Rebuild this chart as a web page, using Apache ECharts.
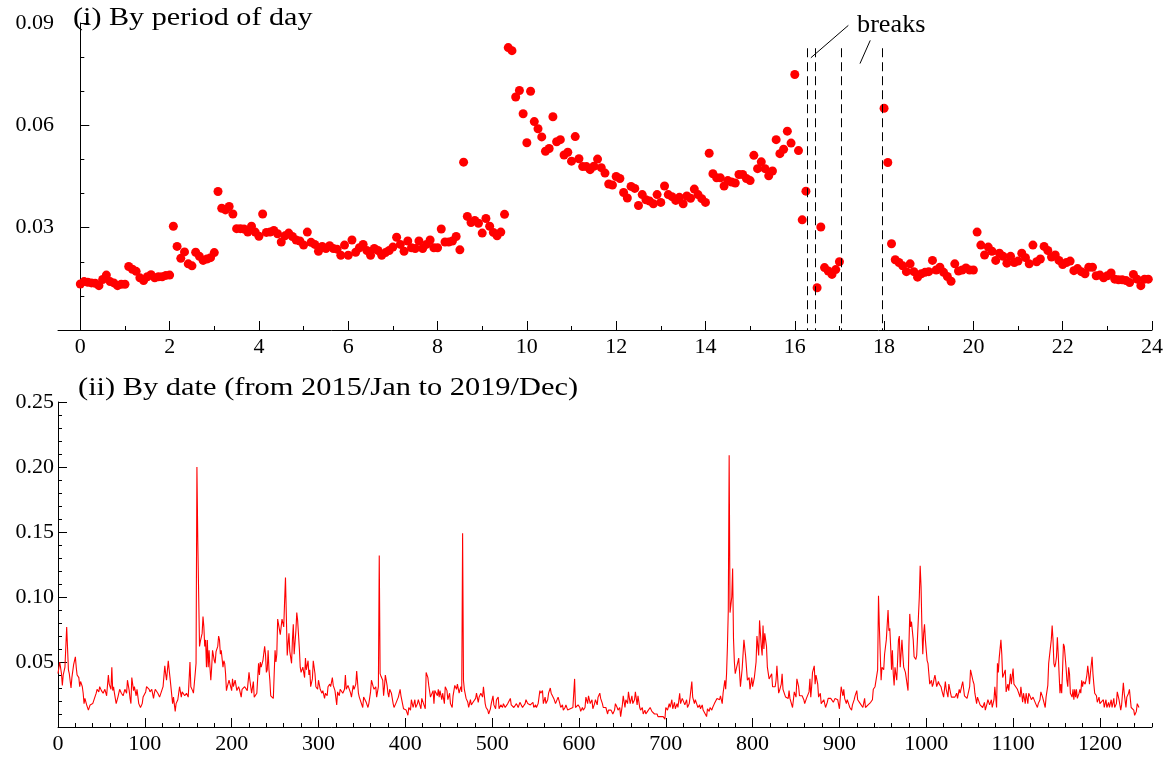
<!DOCTYPE html>
<html><head><meta charset="utf-8">
<script src="https://cdn.jsdelivr.net/npm/echarts@6/dist/echarts.min.js"></script>
<style>html,body{margin:0;padding:0;background:#fff}#c{width:1174px;height:757px}</style>
</head><body><div id="c"></div>
<script>
// ---------- (i) By period of day : one value per 5-minute period (null = break) ----------
const periodRate = [
 0.0135,0.0142,0.0140,0.0138,0.0137,0.0130,0.0148,0.0161,0.0142,0.0138,0.0130,0.0134,
 0.0134,0.0186,0.0178,0.0172,0.0153,0.0145,0.0156,0.0162,0.0153,0.0156,0.0156,0.0160,
 0.0161,0.0304,0.0245,0.0210,0.0229,0.0194,0.0188,0.0228,0.0216,0.0204,0.0208,0.0212,
 0.0227,0.0406,0.0357,0.0352,0.0362,0.0340,0.0297,0.0297,0.0296,0.0287,0.0304,0.0287,
 0.0275,0.0340,0.0286,0.0287,0.0292,0.0282,0.0258,0.0276,0.0284,0.0274,0.0264,0.0261,
 0.0249,0.0287,0.0257,0.0251,0.0231,0.0245,0.0239,0.0247,0.0239,0.0237,0.0219,0.0249,
 0.0219,0.0264,0.0228,0.0241,0.0251,0.0233,0.0219,0.0239,0.0233,0.0219,0.0227,0.0233,
 0.0243,0.0272,0.0251,0.0231,0.0261,0.0241,0.0239,0.0261,0.0239,0.0251,0.0264,0.0241,
 0.0241,0.0296,0.0258,0.0258,0.0261,0.0274,0.0235,0.0492,0.0333,0.0315,0.0321,0.0313,
 0.0284,0.0327,0.0304,0.0286,0.0276,0.0287,0.0339,0.0828,0.0819,0.0683,0.0702,0.0634,
 0.0549,0.0700,0.0611,0.0590,0.0566,0.0524,0.0532,0.0625,0.0552,0.0558,0.0513,0.0521,
 0.0495,0.0567,0.0502,0.0479,0.0479,0.0470,0.0480,0.0501,0.0476,0.0460,0.0428,0.0425,
 0.0450,0.0444,0.0403,0.0387,0.0421,0.0415,0.0365,0.0397,0.0382,0.0378,0.0370,0.0397,
 0.0374,0.0422,0.0397,0.0391,0.0380,0.0389,0.0370,0.0393,0.0386,0.0413,0.0397,0.0385,
 0.0374,0.0518,0.0458,0.0446,0.0446,0.0422,0.0438,0.0434,0.0431,0.0456,0.0456,0.0444,
 0.0438,0.0512,0.0473,0.0493,0.0473,0.0452,0.0466,0.0558,0.0517,0.0530,0.0583,0.0548,
 0.0749,0.0526,0.0323,0.0407,null,null,0.0124,0.0302,0.0183,0.0173,0.0163,0.0177,
 0.0200,null,null,null,null,null,null,null,null,null,null,null,
 0.0650,0.0491,0.0253,0.0206,0.0198,0.0188,0.0171,0.0194,0.0171,0.0155,0.0165,0.0169,
 0.0171,0.0204,0.0176,0.0184,0.0169,0.0157,0.0143,0.0194,0.0173,0.0176,0.0182,0.0176,
 0.0176,0.0287,0.0249,0.0220,0.0243,0.0231,0.0204,0.0225,0.0216,0.0196,0.0216,0.0198,
 0.0202,0.0225,0.0212,0.0194,0.0249,0.0200,0.0208,0.0245,0.0233,0.0214,0.0220,0.0204,
 0.0192,0.0198,0.0202,0.0174,0.0180,0.0171,0.0165,0.0184,0.0184,0.0159,0.0161,0.0153,
 0.0159,0.0167,0.0149,0.0147,0.0147,0.0145,0.0139,0.0163,0.0149,0.0130,0.0149,0.0149
];
const periodsPerHour = 12;
const hourTicks = [0,2,4,6,8,10,12,14,16,18,20,22,24];
const breakHours = [16.29, 16.45, 17.04, 17.95];

// ---------- (ii) By date : [day index, value] ----------
const dateObs = [
[0,0.041],[2,0.050],[4,0.041],[5,0.032],[6,0.040],[8,0.046],[10,0.077],[12,0.044],[13,0.041],[15,0.030],
[16,0.038],[18,0.048],[20,0.054],[21,0.046],[22,0.040],[24,0.038],[25,0.031],[26,0.035],[28,0.031],[29,0.026],
[30,0.018],[31,0.022],[33,0.017],[35,0.013],[37,0.017],[38,0.017],[40,0.018],[42,0.022],[44,0.026],[45,0.029],
[47,0.027],[48,0.031],[50,0.028],[52,0.026],[54,0.029],[56,0.024],[58,0.040],[59,0.033],[61,0.029],[62,0.046],
[63,0.028],[64,0.031],[65,0.026],[67,0.018],[69,0.023],[71,0.029],[73,0.026],[75,0.024],[77,0.029],[79,0.026],
[80,0.036],[82,0.028],[83,0.022],[84,0.018],[85,0.038],[87,0.028],[88,0.031],[90,0.024],[91,0.029],[93,0.018],
[94,0.017],[95,0.015],[97,0.018],[98,0.023],[99,0.024],[101,0.027],[102,0.031],[104,0.031],[105,0.029],[106,0.027],
[108,0.029],[110,0.022],[111,0.026],[112,0.029],[114,0.028],[115,0.026],[117,0.023],[119,0.027],[121,0.031],[123,0.047],
[124,0.041],[125,0.036],[127,0.051],[128,0.044],[129,0.038],[131,0.038],[132,0.018],[133,0.023],[135,0.012],[136,0.018],
[137,0.017],[138,0.021],[140,0.031],[142,0.023],[143,0.027],[145,0.028],[146,0.024],[148,0.026],[150,0.023],[152,0.050],
[153,0.031],[155,0.028],[156,0.026],[158,0.041],[159,0.049],[160,0.200],[161,0.143],[163,0.062],[164,0.066],[166,0.072],
[167,0.085],[168,0.077],[169,0.062],[170,0.067],[171,0.046],[172,0.067],[173,0.046],[174,0.059],[175,0.046],[176,0.036],
[177,0.046],[178,0.059],[180,0.051],[181,0.049],[182,0.058],[183,0.059],[184,0.062],[185,0.070],[186,0.067],[187,0.056],
[188,0.059],[190,0.046],[191,0.051],[192,0.049],[193,0.041],[194,0.028],[195,0.031],[197,0.036],[198,0.036],[200,0.028],
[201,0.037],[202,0.031],[204,0.036],[206,0.028],[208,0.031],
[209,0.029],[211,0.023],[212,0.029],[214,0.030],[215,0.031],[217,0.032],[218,0.028],[220,0.042],[221,0.036],[223,0.026],
[225,0.035],[226,0.023],[228,0.022],[229,0.026],[231,0.049],[232,0.040],[233,0.050],[234,0.046],[236,0.051],[238,0.062],
[239,0.056],[240,0.042],[241,0.044],[242,0.059],[243,0.044],[244,0.036],[245,0.024],[246,0.023],[248,0.022],[249,0.041],
[250,0.059],[251,0.050],[252,0.056],[253,0.083],[254,0.083],[255,0.082],[256,0.071],[257,0.077],[258,0.083],[260,0.077],
[261,0.097],[262,0.115],[263,0.085],[264,0.055],[265,0.064],[266,0.072],[267,0.058],[269,0.049],[270,0.067],[271,0.079],
[272,0.056],[274,0.074],[275,0.088],[276,0.082],[277,0.083],[278,0.060],[279,0.046],[280,0.042],[282,0.046],[284,0.038],
[285,0.053],[286,0.044],[288,0.051],[289,0.040],[290,0.044],[291,0.031],[293,0.037],[294,0.051],[296,0.041],[297,0.031],
[299,0.029],[300,0.036],[302,0.029],[304,0.026],[305,0.028],[307,0.022],[308,0.026],[310,0.024],[311,0.031],[313,0.033],
[314,0.031],[316,0.038],[317,0.032],[319,0.028],[321,0.017],[322,0.027],[324,0.024],[325,0.029],[327,0.028],[328,0.026],
[330,0.029],[331,0.040],[332,0.029],[334,0.032],[335,0.033],[337,0.026],[338,0.023],[340,0.032],[341,0.029],[343,0.033],
[344,0.043],[346,0.026],[347,0.023],[349,0.022],[351,0.015],[352,0.023],[354,0.024],[355,0.019],[357,0.015],[358,0.018],
[360,0.027],[361,0.036],[363,0.031],[364,0.029],[366,0.031],[367,0.023],[369,0.031],[370,0.132],[371,0.041],[372,0.039],
[374,0.036],[375,0.024],[376,0.031],[377,0.040],[379,0.032],[380,0.026],[381,0.023],[382,0.029],[384,0.026],[386,0.018],
[387,0.015],[389,0.018],[390,0.019],[392,0.023],[394,0.029],[395,0.024],[396,0.023],[398,0.014],[400,0.015],[401,0.013],
[403,0.009],[404,0.015],[406,0.013],[407,0.021],[409,0.015],[411,0.021],[412,0.015],[414,0.018],[415,0.021],
[416,0.021],[418,0.014],[419,0.022],[421,0.018],[423,0.014],[424,0.042],[426,0.038],[427,0.032],[429,0.023],[430,0.022],
[432,0.028],[433,0.018],[434,0.028],[436,0.029],[437,0.024],[438,0.029],[439,0.023],[440,0.028],[442,0.021],[443,0.026],
[445,0.018],[446,0.031],[448,0.028],[449,0.021],[451,0.026],[452,0.018],[454,0.015],[455,0.024],[457,0.032],[459,0.029],
[460,0.033],[462,0.026],[463,0.029],[464,0.031],[465,0.027],[466,0.149],[467,0.036],[468,0.029],[470,0.022],[472,0.019],
[473,0.015],[475,0.021],[476,0.017],[478,0.019],[479,0.018],[481,0.022],[482,0.026],[484,0.019],[485,0.023],[487,0.026],
[489,0.023],[490,0.031],[492,0.018],[493,0.015],[495,0.013],[496,0.010],[498,0.014],[499,0.018],[501,0.024],[502,0.017],
[504,0.014],[505,0.021],[507,0.023],[508,0.014],[510,0.017],[512,0.015],[513,0.018],[515,0.015],[516,0.014],[518,0.018],
[519,0.018],[521,0.022],[522,0.017],[524,0.018],[525,0.015],[527,0.014],[528,0.018],[530,0.015],[532,0.019],[533,0.018],
[535,0.015],[536,0.014],[538,0.018],[539,0.021],[541,0.018],[542,0.019],[544,0.017],[545,0.018],[547,0.019],[548,0.015],
[550,0.017],[551,0.015],[553,0.018],[555,0.028],[556,0.026],[558,0.028],[559,0.018],[561,0.023],[562,0.018],[564,0.021],
[565,0.026],[567,0.030],[568,0.026],[570,0.026],[571,0.022],[573,0.018],[575,0.019],[576,0.023],[578,0.018],[579,0.015],
[581,0.017],[582,0.013],[584,0.015],[585,0.017],[587,0.013],[588,0.013],[590,0.014],[591,0.013],[593,0.015],[595,0.037],
[596,0.015],[598,0.014],[599,0.017],[601,0.015],[602,0.012],[604,0.015],[605,0.013],[607,0.015],[608,0.023],[610,0.018],
[611,0.024],[613,0.018],[615,0.021],[616,0.014],[618,0.018],[619,0.021],[621,0.017],[622,0.023],[624,0.026],
[625,0.022],[627,0.018],[628,0.015],[630,0.014],[631,0.015],[633,0.010],[634,0.013],[636,0.012],[637,0.013],[639,0.010],
[641,0.013],[642,0.018],[644,0.015],[645,0.013],[647,0.015],[648,0.008],[650,0.017],[651,0.024],[653,0.015],[654,0.021],
[656,0.018],[657,0.027],[659,0.018],[661,0.024],[662,0.018],[664,0.021],[665,0.027],[667,0.017],[668,0.024],[670,0.015],
[671,0.013],[673,0.015],[674,0.010],[676,0.013],[677,0.010],[679,0.012],[680,0.013],[682,0.015],[684,0.012],[685,0.013],
[687,0.010],[688,0.009],[690,0.010],[691,0.008],[693,0.009],[694,0.008],[696,0.009],[697,0.008],[699,0.006],[700,0.015],
[702,0.013],[704,0.018],[705,0.015],[707,0.021],[708,0.014],[710,0.019],[711,0.014],[713,0.018],[714,0.015],[716,0.026],
[717,0.018],[719,0.022],[720,0.023],[722,0.017],[724,0.021],[725,0.015],[727,0.018],[728,0.023],[730,0.035],[731,0.023],
[733,0.018],[734,0.021],[736,0.017],[737,0.015],[739,0.017],[740,0.014],[742,0.017],[743,0.013],[745,0.012],[747,0.008],
[748,0.014],[750,0.012],[751,0.015],[753,0.013],[754,0.015],[756,0.018],[757,0.017],[759,0.022],[760,0.023],[762,0.021],
[763,0.024],[765,0.018],[766,0.026],[768,0.036],[769,0.029],[770,0.041],[771,0.062],[772,0.090],[773,0.209],[774,0.088],
[776,0.100],[777,0.122],[778,0.068],[779,0.050],[780,0.041],[782,0.042],[784,0.053],[786,0.031],[788,0.045],[790,0.067],
[792,0.054],[794,0.036],[796,0.038],[797,0.029],[799,0.038],[800,0.031],[802,0.038],[804,0.050],[805,0.070],[807,0.055],
[808,0.082],[810,0.062],[811,0.055],[812,0.078],[813,0.060],[814,0.072],[816,0.062],[817,0.046],[819,0.037],[822,0.041],
[823,0.031],
[826,0.031],[827,0.036],[828,0.047],[830,0.026],[831,0.028],[833,0.033],[834,0.041],[835,0.029],[836,0.029],[838,0.023],
[840,0.023],[841,0.022],[842,0.028],[843,0.022],[845,0.023],[846,0.015],[848,0.027],[850,0.023],[851,0.037],[853,0.031],
[854,0.024],[856,0.023],[857,0.024],[859,0.021],[860,0.018],[862,0.022],[863,0.023],[865,0.027],[866,0.037],[867,0.023],
[868,0.031],[869,0.042],[871,0.047],[872,0.033],[873,0.040],[875,0.033],[876,0.023],[878,0.026],[879,0.018],[881,0.017],
[882,0.021],[884,0.015],[886,0.019],[887,0.022],[889,0.021],[890,0.022],[892,0.023],[893,0.019],[895,0.022],[896,0.023],
[898,0.021],[900,0.014],[901,0.014],[902,0.031],[904,0.024],[905,0.029],[906,0.022],[908,0.018],[909,0.021],[911,0.017],
[912,0.015],[914,0.013],[915,0.017],[917,0.021],[918,0.024],[920,0.028],[921,0.021],[922,0.021],[924,0.018],[926,0.017],
[927,0.015],[929,0.022],[930,0.015],[932,0.014],[933,0.017],[935,0.018],[936,0.019],[938,0.021],[939,0.029],[941,0.031],
[942,0.031],[944,0.044],[945,0.101],[946,0.077],[948,0.036],[949,0.046],[951,0.044],[952,0.056],[954,0.067],[956,0.090],
[957,0.074],[958,0.076],[959,0.062],[960,0.044],[961,0.059],[962,0.041],[963,0.032],[964,0.046],[966,0.036],[967,0.051],
[968,0.067],[969,0.070],[970,0.046],[972,0.067],[973,0.056],[974,0.046],[976,0.042],[977,0.041],[979,0.028],[980,0.062],
[981,0.087],[982,0.077],[983,0.081],[985,0.067],[986,0.054],[988,0.052],[989,0.055],[991,0.085],[992,0.100],[993,0.124],
[994,0.108],[995,0.077],[996,0.056],[997,0.072],[998,0.079],[999,0.067],[1001,0.051],[1002,0.049],[1003,0.041],[1004,0.033],
[1006,0.036],[1007,0.031],[1008,0.033],[1009,0.037],[1010,0.040],[1011,0.036],[1012,0.031],[1014,0.035],[1015,0.033],[1017,0.031],
[1018,0.028],[1020,0.023],[1022,0.035],[1023,0.029],[1025,0.023],[1026,0.033],[1028,0.026],[1029,0.023],[1031,0.024],
[1033,0.023],[1035,0.026],[1036,0.022],[1038,0.029],[1039,0.026],[1041,0.032],[1042,0.035],[1044,0.024],[1045,0.023],[1047,0.022],
[1048,0.021],[1050,0.031],[1051,0.044],[1053,0.045],[1054,0.035],[1055,0.033],[1056,0.026],[1058,0.018],[1059,0.023],[1061,0.019],
[1062,0.017],[1064,0.018],[1065,0.015],[1067,0.019],[1068,0.013],[1070,0.018],[1071,0.021],[1073,0.017],[1075,0.021],[1076,0.015],
[1078,0.021],[1079,0.031],[1081,0.015],[1082,0.049],[1083,0.042],[1084,0.053],[1086,0.067],[1087,0.056],[1088,0.038],[1089,0.037],
[1091,0.044],[1092,0.027],[1094,0.033],[1095,0.028],[1097,0.041],[1098,0.033],[1100,0.045],[1101,0.033],[1103,0.031],[1105,0.029],
[1106,0.027],[1108,0.023],[1109,0.031],[1111,0.019],[1112,0.026],[1114,0.018],[1115,0.026],[1117,0.018],[1118,0.026],[1120,0.023],
[1121,0.021],[1123,0.023],[1124,0.022],[1126,0.018],[1128,0.015],[1129,0.018],[1131,0.021],[1132,0.027],[1134,0.023],[1135,0.022],
[1137,0.015],[1138,0.023],[1140,0.032],[1141,0.049],[1143,0.050],[1144,0.067],[1145,0.078],[1146,0.067],[1147,0.049],[1148,0.046],
[1149,0.049],[1150,0.054],[1151,0.069],[1152,0.056],[1154,0.026],[1155,0.033],[1156,0.026],[1157,0.044],[1158,0.064],[1159,0.062],
[1161,0.046],[1162,0.036],[1163,0.031],[1164,0.046],[1165,0.041],[1166,0.026],[1168,0.023],[1169,0.029],[1170,0.021],[1171,0.029],
[1172,0.023],[1173,0.029],[1174,0.022],[1176,0.026],[1177,0.029],[1178,0.026],[1179,0.036],[1180,0.031],[1181,0.035],[1183,0.033],
[1184,0.036],[1185,0.040],[1186,0.047],[1187,0.041],[1188,0.033],[1189,0.041],[1191,0.054],[1192,0.041],[1193,0.033],[1194,0.026],
[1196,0.024],[1197,0.019],[1199,0.023],[1200,0.018],[1202,0.017],[1204,0.021],[1205,0.015],[1207,0.021],[1208,0.015],[1210,0.019],
[1211,0.015],[1213,0.021],[1214,0.015],[1216,0.022],[1217,0.015],[1219,0.018],[1220,0.027],[1222,0.021],[1224,0.013],[1225,0.017],
[1227,0.034],[1228,0.026],[1230,0.015],[1231,0.023],[1233,0.026],[1234,0.029],[1236,0.015],[1237,0.014],[1239,0.013],[1240,0.009],
[1242,0.012],[1243,0.018],[1245,0.015]
];
const dayTicks = [0,100,200,300,400,500,600,700,800,900,1000,1100,1200];

const titleTop = '(i) By period of day';
const titleBottom = '(ii) By date (from 2015/Jan to 2019/Dec)';
const breaksLabel = 'breaks';

// ---------- chart ----------
const SERIF = '"Liberation Serif","Times New Roman",serif';
const BLACK = '#000';
const RED = '#ff0000';

const periodPoints = [];
periodRate.forEach((v, k) => { if (v !== null) periodPoints.push([k / periodsPerHour, v]); });

const minorHours = [];
for (let h = 1; h < 24; h += 2) minorHours.push(h);
const minorDays = [];
for (let d = 20; d <= 1260; d += 20) if (d % 100 !== 0) minorDays.push(d);

const tickLbl = { color: BLACK, fontFamily: SERIF, fontSize: 22 };
const axLine = { show: true, lineStyle: { color: BLACK, width: 1 } };

const chart = echarts.init(document.getElementById('c'), null, { renderer: 'canvas' });

const breakLines = breakHours.map(h => [
  { coord: [h, 0.0826], lineStyle: { type: [9, 5], color: BLACK, width: 1 } },
  { coord: [h, 0] }
]);
const pointerLines = [
  [{ coord: [17.2, 0.0893], lineStyle: { type: 'solid', color: BLACK, width: 1 } }, { coord: [16.36, 0.0798] }],
  [{ coord: [17.69, 0.0849], lineStyle: { type: 'solid', color: BLACK, width: 1 } }, { coord: [17.46, 0.0781] }]
];

chart.setOption({
  animation: false,
  backgroundColor: '#fff',
  grid: [
    { left: 58, right: 22, top: 23, height: 307 },
    { left: 58, right: 22, top: 402, height: 325 }
  ],
  xAxis: [
    { type: 'value', gridIndex: 0, position: 'bottom', min: -0.5, max: 24,
      axisLine: axLine, splitLine: { show: false },
      axisTick: { show: true, inside: true, length: 9, lineStyle: { color: BLACK }, customValues: hourTicks },
      axisLabel: Object.assign({ margin: 6, customValues: hourTicks, formatter: v => String(v) }, tickLbl) },
    { type: 'value', gridIndex: 0, position: 'bottom', min: -0.5, max: 24,
      axisLine: { show: false }, splitLine: { show: false }, axisLabel: { show: false },
      axisTick: { show: true, inside: true, length: 4, lineStyle: { color: BLACK }, customValues: minorHours } },
    { type: 'value', gridIndex: 1, position: 'bottom', min: 0, max: 1260,
      axisLine: axLine, splitLine: { show: false },
      axisTick: { show: true, inside: true, length: 9, lineStyle: { color: BLACK }, customValues: dayTicks },
      axisLabel: Object.assign({ margin: 6, customValues: dayTicks, formatter: v => String(v) }, tickLbl) },
    { type: 'value', gridIndex: 1, position: 'bottom', min: 0, max: 1260,
      axisLine: { show: false }, splitLine: { show: false }, axisLabel: { show: false },
      axisTick: { show: true, inside: true, length: 4, lineStyle: { color: BLACK }, customValues: minorDays } }
  ],
  yAxis: [
    { type: 'value', gridIndex: 0, min: 0, max: 0.09, interval: 0.03,
      axisLine: axLine, splitLine: { show: false },
      axisTick: { show: true, inside: true, length: 9, lineStyle: { color: BLACK } },
      minorTick: { show: true, splitNumber: 3, length: 4, lineStyle: { color: BLACK } },
      axisLabel: Object.assign({ margin: 4, formatter: v => v === 0 ? '' : v.toFixed(2) }, tickLbl) },
    { type: 'value', gridIndex: 1, min: 0, max: 0.25, interval: 0.05,
      axisLine: axLine, splitLine: { show: false },
      axisTick: { show: true, inside: true, length: 9, lineStyle: { color: BLACK } },
      minorTick: { show: true, splitNumber: 5, length: 4, lineStyle: { color: BLACK } },
      axisLabel: Object.assign({ margin: 4, formatter: v => v === 0 ? '' : v.toFixed(2) }, tickLbl) }
  ],
  series: [
    { type: 'scatter', xAxisIndex: 0, yAxisIndex: 0, data: periodPoints,
      symbol: 'circle', symbolSize: 9, itemStyle: { color: RED, opacity: 1 }, silent: true,
      markLine: { silent: true, symbol: ['none', 'none'], label: { show: false },
        data: breakLines.concat(pointerLines) } },
    { type: 'line', xAxisIndex: 2, yAxisIndex: 1, data: dateObs,
      showSymbol: false, symbol: 'none', silent: true,
      lineStyle: { color: RED, width: 1.1 } }
  ],
  graphic: [
    { type: 'text', x: 73, y: 18, scaleX: 1.16,
      style: { text: titleTop, font: '26px ' + SERIF, fill: BLACK, verticalAlign: 'middle', textAlign: 'left' } },
    { type: 'text', x: 78, y: 388, scaleX: 1.17,
      style: { text: titleBottom, font: '26px ' + SERIF, fill: BLACK, verticalAlign: 'middle', textAlign: 'left' } },
    { type: 'text', x: 857, y: 25, scaleX: 1.05,
      style: { text: breaksLabel, font: '25px ' + SERIF, fill: BLACK, verticalAlign: 'middle', textAlign: 'left' } }
  ]
});
</script>
</body></html>
